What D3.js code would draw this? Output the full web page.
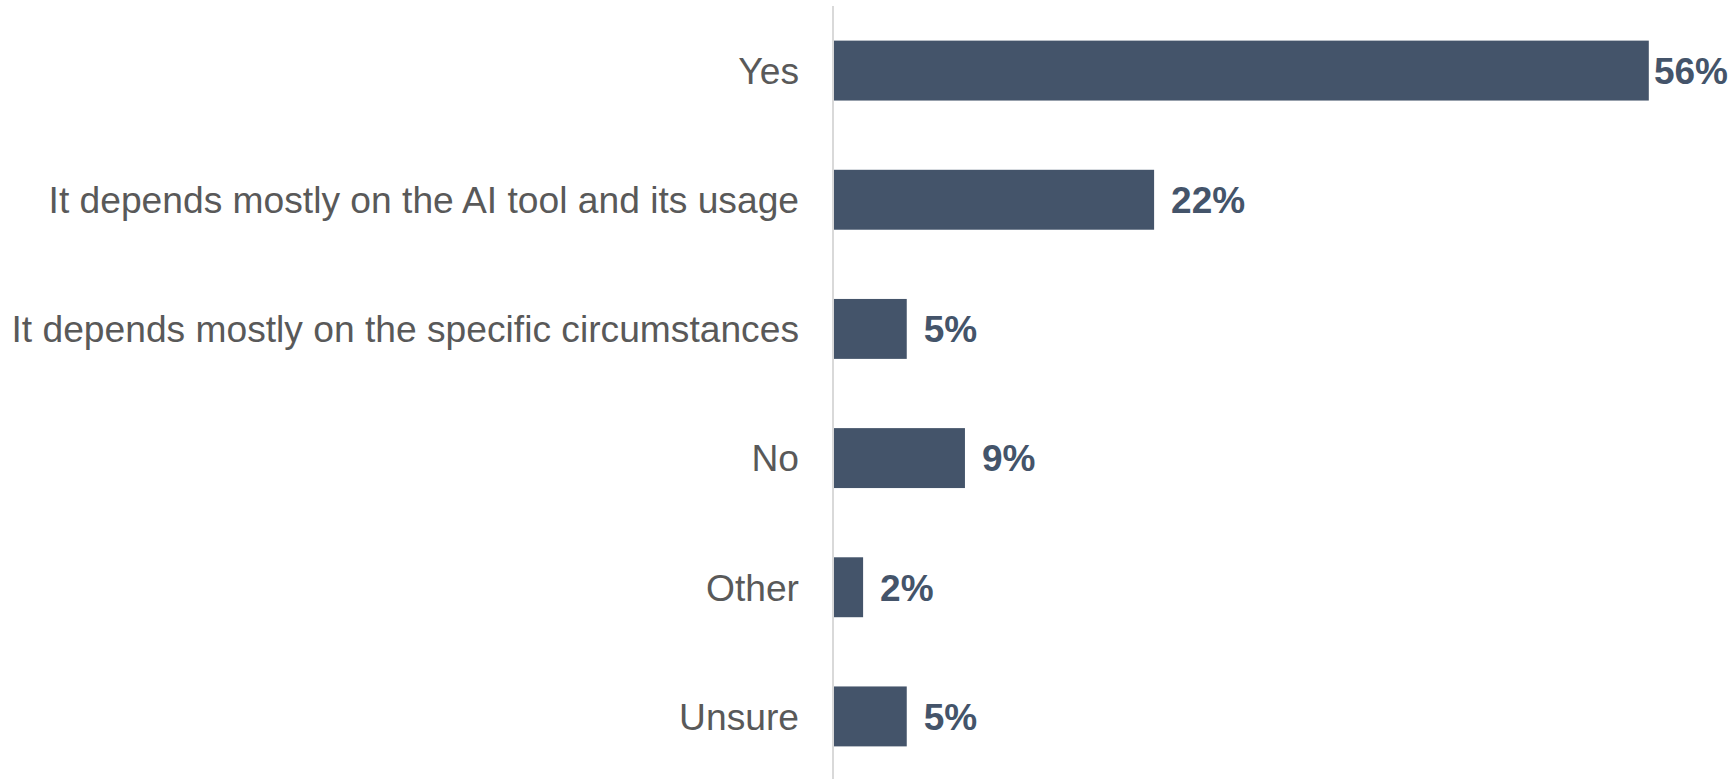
<!DOCTYPE html>
<html>
<head>
<meta charset="utf-8">
<script src="https://cdn.jsdelivr.net/npm/d3@7"></script>
<style>
  html, body { margin: 0; padding: 0; background: #fff; }
  svg { display: block; }
</style>
</head>
<body>
<div id="chart"></div>
<script>
// answer categories, top to bottom
const categories = [
  "Yes",
  "It depends mostly on the AI tool and its usage",
  "It depends mostly on the specific circumstances",
  "No",
  "Other",
  "Unsure"
];
// share of respondents (%)
const values = [56, 22, 5, 9, 2, 5];
const valueLabels = ["56%", "22%", "5%", "9%", "2%", "5%"];

const width = 1731,
  height = 779;

const margin = { top: 6, right: 0, bottom: 0, left: 834 };

const svg = d3.select("#chart").append("svg")
  .attr("width", width)
  .attr("height", height);

// set the ranges
let x = d3.scaleLinear().domain([0, 60]).range([margin.left, margin.left + 14.55 * 60]);
let y = d3.scaleBand()
  .domain(categories)
  .range([margin.top, height + 2])
  .paddingInner(0.536)
  .paddingOuter(0.268);

const data = categories.map((c, i) => ({ cat: c, value: values[i], label: valueLabels[i] }));

// bars
svg.append("g")
  .selectAll("rect")
  .data(data)
  .join("rect")
  .attr("x", x(0))
  .attr("y", d => y(d.cat))
  .attr("width", d => x(d.value) - x(0))
  .attr("height", y.bandwidth())
  .attr("fill", "#44546A");

// vertical axis line
svg.append("line")
  .attr("x1", x(0) - 1)
  .attr("x2", x(0) - 1)
  .attr("y1", 6)
  .attr("y2", height)
  .attr("stroke", "#d9d9d9")
  .attr("stroke-width", 2);

// category labels
svg.append("g")
  .selectAll("text")
  .data(data)
  .join("text")
  .attr("x", x(0) - 35)
  .attr("y", d => y(d.cat) + y.bandwidth() / 2)
  .attr("dy", "0.36em")
  .attr("text-anchor", "end")
  .style("font-family", "'Liberation Sans', Arial, sans-serif")
  .style("font-size", "37.2px")
  .style("fill", "#595959")
  .text(d => d.cat);

// value labels
const vals = svg.append("g")
  .selectAll("text")
  .data(data)
  .join("text")
  .attr("y", d => y(d.cat) + y.bandwidth() / 2)
  .attr("dy", "0.36em")
  .style("font-family", "'Liberation Sans', Arial, sans-serif")
  .style("font-size", "37px")
  .style("font-weight", "bold")
  .style("fill", "#44546A")
  .text(d => d.label);

// keep labels inside the plot area like the original
vals.each(function (d) {
  const w = this.getComputedTextLength();
  let lx = x(d.value) + 17;
  if (lx + w > width - 3) lx = width - 3 - w;
  d3.select(this).attr("x", lx);
});
</script>
</body>
</html>
